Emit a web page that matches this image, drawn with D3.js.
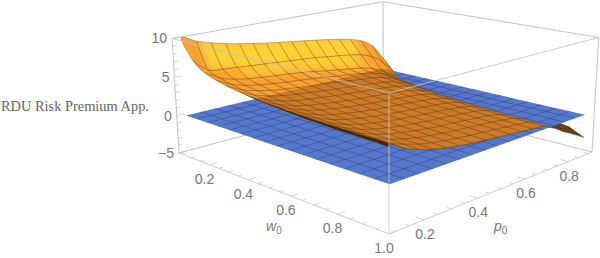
<!DOCTYPE html>
<html>
<head>
<meta charset="utf-8">
<script src="https://cdn.jsdelivr.net/npm/d3@7"></script>
<style>
  html, body { margin: 0; padding: 0; background: #fff; }
  svg { display: block; }
  text { font-family: 'Liberation Sans', Arial, sans-serif; fill: #777; font-size: 14px; }
</style>
</head>
<body>
<div id="chart"></div>
<script>
// ticks
const wTicks = [0.2, 0.4, 0.6, 0.8, 1.0];
const pTicks = [0.2, 0.4, 0.6, 0.8];
const zTicks = [-5, 0, 5, 10];
const wMinor = [0.05, 0.1, 0.15, 0.25, 0.3, 0.35, 0.45, 0.5, 0.55, 0.65, 0.7, 0.75, 0.85, 0.9, 0.95];
const pMinor = [0.1, 0.15, 0.25, 0.3, 0.35, 0.45, 0.5, 0.55, 0.65, 0.7, 0.75, 0.85, 0.9];
const zMinor = [-4, -3, -2, -1, 1, 2, 3, 4, 6, 7, 8, 9];

// grid of the surface
const wNodes = [0.05, 0.108, 0.166, 0.224, 0.283, 0.341, 0.399, 0.457, 0.515, 0.573, 0.631, 0.689, 0.748, 0.806, 0.864, 0.922, 0.98];
const pNodes = [0.1, 0.15, 0.2, 0.25, 0.3, 0.35, 0.4, 0.45, 0.5, 0.55, 0.6, 0.65, 0.7, 0.75, 0.8, 0.85, 0.9];

// risk premium, one row per wNodes value, one column per pNodes value
const zRows = [
  [10.1, 9.3, 8.75, 8.3, 7.95, 7.65, 7.35, 7.1, 6.87, 6.65, 6.4, 6.15, 5.85, 5.5, 4.95, 3.9, 1.7],
  [7.5, 5.9, 5.65, 5.5, 5.35, 5.2, 5.05, 4.9, 4.75, 4.6, 4.35, 4.15, 3.9, 3.55, 2.9, 1.7, -0.1],
  [6.4, 5.3, 4.75, 4.4, 4.2, 4.0, 3.85, 3.65, 3.4, 3.1, 2.85, 2.6, 2.35, 1.9, 1.1, 0.1, -0.4],
  [5.85, 4.9, 4.35, 4.0, 3.75, 3.55, 3.4, 3.2, 3.0, 2.75, 2.55, 2.3, 2.0, 1.45, 0.6, -0.3, -0.6],
  [5.5, 4.6, 4.1, 3.7, 3.45, 3.25, 3.05, 2.9, 2.7, 2.5, 2.3, 2.1, 1.75, 1.15, 0.3, -0.6, -0.8],
  [5.25, 4.4, 3.85, 3.45, 3.2, 3.0, 2.8, 2.62, 2.47, 2.3, 2.1, 1.9, 1.52, 0.9, 0.05, -0.8, -1.0],
  [5.05, 4.22, 3.65, 3.25, 3.0, 2.78, 2.58, 2.4, 2.27, 2.1, 1.93, 1.72, 1.35, 0.72, -0.15, -1.0, -1.2],
  [4.9, 4.1, 3.5, 3.1, 2.82, 2.58, 2.38, 2.2, 2.08, 1.93, 1.77, 1.56, 1.18, 0.56, -0.3, -1.1, -1.3],
  [4.78, 4.0, 3.38, 2.98, 2.68, 2.42, 2.22, 2.03, 1.92, 1.78, 1.62, 1.42, 1.04, 0.42, -0.45, -1.2, -1.5],
  [4.68, 3.9, 3.28, 2.86, 2.55, 2.28, 2.07, 1.9, 1.78, 1.64, 1.48, 1.28, 0.92, 0.3, -0.6, -1.3, -1.6],
  [4.6, 3.8, 3.18, 2.74, 2.42, 2.15, 1.93, 1.77, 1.64, 1.5, 1.34, 1.15, 0.8, 0.2, -0.7, -1.4, -1.7],
  [4.54, 3.72, 3.08, 2.62, 2.3, 2.03, 1.82, 1.65, 1.52, 1.38, 1.22, 1.03, 0.7, 0.1, -0.8, -1.5, -1.8],
  [4.5, 3.64, 3.0, 2.52, 2.2, 1.92, 1.72, 1.54, 1.42, 1.27, 1.11, 0.93, 0.62, 0.02, -0.9, -1.6, -1.8],
  [4.47, 3.56, 2.92, 2.44, 2.1, 1.83, 1.63, 1.44, 1.33, 1.18, 1.02, 0.84, 0.55, -0.05, -1.0, -1.6, -1.8],
  [4.45, 3.5, 2.85, 2.36, 2.0, 1.74, 1.53, 1.36, 1.24, 1.09, 0.93, 0.75, 0.5, -0.1, -1.0, -1.6, -1.8],
  [4.45, 3.42, 2.78, 2.28, 1.92, 1.66, 1.44, 1.28, 1.15, 1.0, 0.83, 0.66, 0.46, -0.15, -0.9, -1.5, -2.1],
  [4.45, 3.35, 2.7, 2.2, 1.85, 1.58, 1.36, 1.2, 1.05, 0.9, 0.74, 0.58, 0.42, -0.3, -1.27, -2.1, -3.0]
];
// lower lip of the surface along the first p column (the dark band)
const lipZ = [10.1, 7.45, 6.35, 5.8, 5.45, 5.18, 4.95, 4.77, 4.6, 4.47, 4.35, 4.27, 4.2, 4.15, 4.12, 4.1, 4.09];

const planeW = [0.05, 0.98];
const planeP = [0.1, 0.9];
const planeZ = 0;

const width = 600;
const height = 258;

// box: front bottom corner and the three edges leaving it, plus perspective weights
const F = [389, 234], L = [179, 153], R = [592, 152], T = [389, 93];
const wa = 0.25, wb = 0.25, wc = -0.04;

const uScale = d3.scaleLinear().domain([1.0, 0.03]).range([0, 1]);
const vScale = d3.scaleLinear().domain([0.08, 0.92]).range([0, 1]);
const tScale = d3.scaleLinear().domain([-5, 10]).range([0, 1]);

function project(w, p, z) {
  const u = uScale(w), v = vScale(p), t = tScale(z);
  const q = 1 + wa * u + wb * v + wc * t;
  const hx = F[0] + u * (L[0] * (1 + wa) - F[0]) + v * (R[0] * (1 + wb) - F[0]) + t * (T[0] * (1 + wc) - F[0]);
  const hy = F[1] + u * (L[1] * (1 + wa) - F[1]) + v * (R[1] * (1 + wb) - F[1]) + t * (T[1] * (1 + wc) - F[1]);
  return [hx / q, hy / q];
}
const toPath = pts => 'M' + pts.map(a => project(a[0], a[1], a[2]).map(n => n.toFixed(2)).join(',')).join('L') + 'Z';
const smooth = d3.line().curve(d3.curveCatmullRom.alpha(0.5));
const smoothClosed = d3.line().curve(d3.curveCatmullRomClosed.alpha(0.5));

// point where a segment crosses z=0
const crossing = (a, b) => {
  const k = a[2] / (a[2] - b[2]);
  return [a[0] + (b[0] - a[0]) * k, a[1] + (b[1] - a[1]) * k, 0];
};

// cut a polygon at z=0, keep the side given by sign
function cutPoly(pts, sign) {
  const out = [];
  pts.forEach((a, i) => {
    const b = pts[(i + 1) % pts.length];
    const da = sign * a[2], db = sign * b[2];
    if (da >= 0) out.push(a);
    if ((da >= 0) !== (db >= 0)) out.push(crossing(a, b));
  });
  return out;
}

const node = (r, c) => [wNodes[r], pNodes[c], zRows[r][c]];

const svg = d3.select('#chart').append('svg').attr('width', width).attr('height', height);
const defs = svg.append('defs');
defs.append('filter').attr('id', 'soft').attr('x', '-10%').attr('y', '-10%').attr('width', '120%').attr('height', '120%')
  .append('feGaussianBlur').attr('stdDeviation', 3);

const wA = uScale.domain()[1], wB = uScale.domain()[0];
const pA = vScale.domain()[0], pB = vScale.domain()[1];
const zA = tScale.domain()[0], zB = tScale.domain()[1];

function edge(g, a, b) {
  const p1 = project(...a), p2 = project(...b);
  g.append('line').attr('x1', p1[0]).attr('y1', p1[1]).attr('x2', p2[0]).attr('y2', p2[1])
    .attr('stroke', '#c2c2c2').attr('stroke-width', 1);
}

// back edges
const back = svg.append('g');
edge(back, [wA, pA, zA], [wA, pB, zA]);
edge(back, [wA, pB, zA], [wB, pB, zA]);
edge(back, [wA, pB, zA], [wA, pB, zB]);
edge(back, [wA, pA, zB], [wA, pB, zB]);
edge(back, [wA, pB, zB], [wB, pB, zB]);
edge(back, [wA, pA, zA], [wA, pA, zB]);
edge(back, [wB, pB, zA], [wB, pB, zB]);

// cells of the surface, far ones first
const cells = [];
for (let r = 0; r < wNodes.length - 1; r++) {
  for (let c = pNodes.length - 2; c >= 0; c--) {
    const q = [node(r, c), node(r, c + 1), node(r + 1, c + 1), node(r + 1, c)];
    const dr = (zRows[r][c] + zRows[r][c + 1] - zRows[r + 1][c] - zRows[r + 1][c + 1]) / 2;
    const dc = (zRows[r][c + 1] + zRows[r + 1][c + 1] - zRows[r][c] - zRows[r + 1][c]) / 2;
    cells.push({ q, shade: dr + 3 * dc });
  }
}
const shadeColor = d3.scaleLinear().domain([0, 0.9]).range(['rgb(250,160,50)', 'rgb(255,210,55)']).clamp(true);

// part under the plane
svg.append('g').selectAll('path').data(cells).join('path')
  .attr('d', d => { const s = cutPoly(d.q, -1); return s.length > 2 ? toPath(s) : null; })
  .attr('fill', '#5f3c1a').attr('stroke', '#5f3c1a').attr('stroke-width', 0.5);

// plane z=0
const planeCorners = [[planeW[0], planeP[0], planeZ], [planeW[0], planeP[1], planeZ], [planeW[1], planeP[1], planeZ], [planeW[1], planeP[0], planeZ]];
svg.append('path').attr('d', toPath(planeCorners)).attr('fill', '#5577cc');
const planeMesh = svg.append('g').attr('stroke', '#2a3a70').attr('stroke-opacity', 0.5).attr('stroke-width', 0.8).attr('fill', 'none');
wNodes.slice(1, -1).forEach(w => {
  planeMesh.append('path').attr('d', 'M' + project(w, planeP[0], planeZ) + 'L' + project(w, planeP[1], planeZ));
});
pNodes.slice(1, -1).forEach(p => {
  planeMesh.append('path').attr('d', 'M' + project(planeW[0], p, planeZ) + 'L' + project(planeW[1], p, planeZ));
});

// outline of the part above the plane
const lastR = wNodes.length - 1, lastC = pNodes.length - 1;
const outline = [];
d3.range(lastC + 1).forEach(c => outline.push(node(0, c)));
outline.push(crossing(node(0, lastC), node(1, lastC)));
let frontCut = lastC;
d3.range(1, lastR + 1).forEach(r => {
  const c = zRows[r].findIndex(z => z < 0);
  outline.push(crossing(node(r, c - 1), node(r, c)));
  if (r === lastR) frontCut = c - 1;
});
d3.range(frontCut, 0, -1).forEach(c => outline.push(node(lastR, c)));
d3.range(lastR, 0, -1).forEach(r => outline.push(node(r, 0)));
const outlinePath = smoothClosed(outline.map(a => project(...a)));
defs.append('clipPath').attr('id', 'surf').append('path').attr('d', outlinePath);

// dark band under the first column
const lipLine = d3.range(lastR + 1).map(r => project(wNodes[r], pNodes[0], zRows[r][0]))
  .concat(d3.range(lastR, -1, -1).map(r => project(wNodes[r], pNodes[0], lipZ[r])));
svg.append('path').attr('d', smooth(lipLine) + 'Z').attr('fill', '#452708');

// surface above the plane
const upper = svg.append('g').attr('clip-path', 'url(#surf)');
upper.append('path').attr('d', outlinePath).attr('fill', 'rgb(250,165,50)');
upper.append('g').attr('filter', 'url(#soft)').selectAll('path').data(cells).join('path')
  .attr('d', d => { const s = cutPoly(d.q, 1); return s.length > 2 ? toPath(s) : null; })
  .attr('fill', d => shadeColor(d.shade)).attr('stroke', d => shadeColor(d.shade)).attr('stroke-width', 3);
// the plane shows through as a darker region
upper.append('path').attr('d', toPath(planeCorners)).attr('fill', '#642814').attr('fill-opacity', 0.3);

// mesh on the surface
const mesh = svg.append('g').attr('stroke', '#4a3010').attr('stroke-opacity', 0.5).attr('stroke-width', 0.8).attr('fill', 'none');
function meshLine(pts) {
  const run = [];
  pts.forEach((a, i) => {
    if (a[2] >= 0) run.push(a);
    const b = pts[i + 1];
    if (b && (a[2] >= 0) !== (b[2] >= 0)) run.push(crossing(a, b));
  });
  if (run.length > 1) mesh.append('path').attr('d', smooth(run.map(a => project(...a))));
}
wNodes.slice(1).forEach((w, i) => meshLine(pNodes.map((p, c) => node(i + 1, c))));
pNodes.slice(1).forEach((p, i) => meshLine(wNodes.map((w, r) => node(r, i + 1))));
svg.append('path').attr('d', outlinePath).attr('fill', 'none').attr('stroke', '#8a5a20').attr('stroke-opacity', 0.6).attr('stroke-width', 0.7);

// front edges and ticks on top
const front = svg.append('g');
edge(front, [wB, pA, zA], [wA, pA, zA]);
edge(front, [wB, pA, zA], [wB, pB, zA]);
edge(front, [wB, pA, zA], [wB, pA, zB]);
edge(front, [wB, pA, zB], [wA, pA, zB]);
edge(front, [wB, pA, zB], [wB, pB, zB]);
front.attr('opacity', 0.85);

function tick(a, b) {
  const p1 = project(...a), p2 = project(...b);
  front.append('line').attr('x1', p1[0]).attr('y1', p1[1]).attr('x2', p2[0]).attr('y2', p2[1])
    .attr('stroke', '#c2c2c2').attr('stroke-width', 0.8);
}
wTicks.forEach(w => tick([w, pA, zA], [w, pA + 0.025, zA]));
wMinor.forEach(w => tick([w, pA, zA], [w, pA + 0.014, zA]));
pTicks.forEach(p => tick([wB, p, zA], [wB - 0.03, p, zA]));
pMinor.forEach(p => tick([wB, p, zA], [wB - 0.016, p, zA]));
zTicks.forEach(z => tick([wA, pA, z], [wA, pA + 0.025, z]));
zMinor.forEach(z => tick([wA, pA, z], [wA, pA + 0.014, z]));

// tick labels
const fmt = d3.format('.1f');
const minus = n => String(n).replace('-', '\u2212');
svg.append('g').selectAll('text').data(wTicks).join('text')
  .attr('x', d => project(d, pA, zA)[0] - 5)
  .attr('y', d => project(d, pA, zA)[1] + 19)
  .attr('text-anchor', 'middle').text(fmt);
svg.append('g').selectAll('text').data(pTicks).join('text')
  .attr('x', d => project(wB, d, zA)[0] + 1)
  .attr('y', d => project(wB, d, zA)[1] + 19)
  .attr('text-anchor', 'middle').text(fmt);
svg.append('g').selectAll('text').data(zTicks).join('text')
  .attr('x', d => project(wA, pA, d)[0] - 5)
  .attr('y', d => project(wA, pA, d)[1] + 5)
  .attr('text-anchor', 'end').text(minus);

// axis titles
const wTitle = svg.append('text').attr('x', 266).attr('y', 231).attr('font-style', 'italic').text('w');
wTitle.append('tspan').attr('dy', 3).attr('font-size', 10).attr('font-style', 'normal').text('0');
const pTitle = svg.append('text').attr('x', 494).attr('y', 231).attr('font-style', 'italic').text('p');
pTitle.append('tspan').attr('dy', 3).attr('font-size', 10).attr('font-style', 'normal').text('0');

svg.append('text').attr('x', 1).attr('y', 111)
  .style('font-family', "'Liberation Serif', serif").style('font-size', '14.4px').style('fill', '#666')
  .text('RDU Risk Premium App.');
</script>
</body>
</html>
